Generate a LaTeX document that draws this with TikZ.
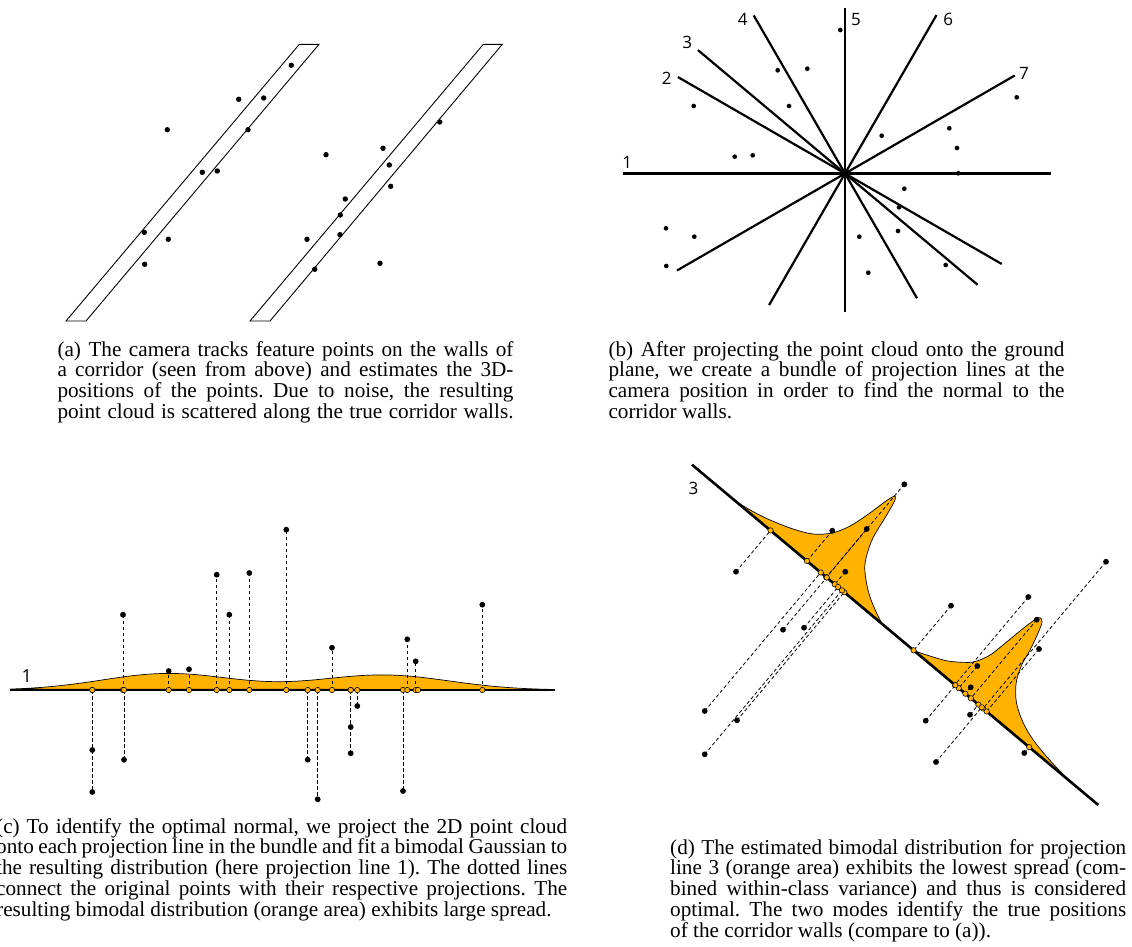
\documentclass[tikz,border=0pt]{standalone}
\usepackage{fontspec}
\setmainfont{Liberation Serif}
\newfontfamily\numfont{Open Sans}
\usetikzlibrary{calc}
\definecolor{gauss}{RGB}{255,179,0}
\frenchspacing
\newcommand{\capfont}{\fontsize{21.2}{20.8}\selectfont\lineskiplimit=-100pt\frenchspacing}
\newcommand{\jln}[2]{\makebox[#1][s]{#2}}
\newcommand{\lastln}[2]{\makebox[#1][l]{#2}}
\begin{document}
\begin{tikzpicture}[x=1pt,y=-1pt,
  wall/.style={line width=0.9pt, line join=miter},
  dotA/.style={circle,fill=black,inner sep=0pt,minimum size=5.4pt},
  dotB/.style={circle,fill=black,inner sep=0pt,minimum size=4.7pt},
  dotC/.style={circle,fill=black,inner sep=0pt,minimum size=5.8pt},
  ray/.style={line width=2.2pt},
  axis/.style={line width=2.6pt},
  proj/.style={circle,fill=gauss,draw=black,line width=0.55pt,inner sep=0pt,minimum size=5.4pt},
  dashes/.style={line width=0.8pt,dash pattern=on 3.5pt off 2.5pt},
  blob/.style={fill=gauss,draw=black,line width=0.7pt},
  numlab/.style={font=\numfont\fontsize{17}{17}\selectfont,inner sep=0pt},
  capnode/.style={anchor=base west,inner sep=0pt}]
\useasboundingbox (0,0) rectangle (1132,946);

% ---------------- (a) corridor ----------------
\draw[wall] (66,321) -- (86,321) -- (319,44.3) -- (299.3,44.3) -- cycle;
\draw[wall] (250,321) -- (270,321) -- (502.3,44.3) -- (483.3,44.3) -- cycle;
\foreach \p [count=\i] in {(291.3,65.3),(238.7,99.3),(263.7,98),(167.3,129.7),(248,129.7),
  (202.3,172.3),(217.3,171),(144.3,232.3),(168.3,239.3),(144.7,264.3),(439.7,122),
  (326,154.7),(383,148.3),(389.3,165),(390.7,186.3),(345.3,199),(340.3,215),
  (307,239.3),(340,234.7),(380,263.3),(314.7,269.3)}
  \node[dotA] (a\i) at \p {};

% ---------------- (b) bundle ----------------
\coordinate (bc) at (845,173.5);
\foreach \n/\aa/\ra/\ab/\rb in {1/180/222/0/206, 2/210/193/30/181, 3/220/192/40/173,
  4/240/182.5/60/144, 5/270/165.5/90/138, 6/300/183/120/152, 7/330/196/150/194} {
  \coordinate (b\n s) at ($(bc)+(\aa:\ra)$);
  \coordinate (b\n e) at ($(bc)+(\ab:\rb)$);
  \draw[ray] (b\n s) -- (b\n e);
}
\node[numlab] (bl1) at (627.3,162.3) {1};
\node[numlab] (bl2) at (666.7,78.3) {2};
\node[numlab] (bl3) at (687.3,42.3) {3};
\node[numlab] (bl4) at (742.7,19.3) {4};
\node[numlab] (bl5) at (856,19.3) {5};
\node[numlab] (bl6) at (948.3,19.3) {6};
\node[numlab] (bl7) at (1024,73.3) {7};
\foreach \p [count=\i] in {(840.3,30),(777.7,70.3),(807.3,68.7),(693.7,106),(789,106),
  (1016.7,97.3),(949.3,128.3),(881.7,135.7),(957,148),(734.7,156.7),(752.7,155.3),
  (958.3,173.3),(904.3,188.7),(899,207.3),(666,228.3),(694.3,236.7),(898,231),
  (859.3,236.7),(666.3,266),(945.7,265),(868.3,272.7)}
  \node[dotB] (b\i) at \p {};

% ---------------- (c) projection on line 1 ----------------
\draw[blob] plot[domain=10:555,samples=220,smooth]
  (\x,{690-16.5*exp(-0.5*((\x-168)/66)^2)-15*exp(-0.5*((\x-383)/66)^2)}) -- cycle;
\foreach \x/\y [count=\i] in {92.3/750,92.3/792,123/614.7,124/759.7,168.7/671,189/669.3,
  216.7/574.7,229.3/614.7,249.3/573,286.3/529.7,307.7/759.7,317.7/799.3,332/647.7,
  350.7/727,350.7/753.3,357.3/706,403/791,407.3/639.3,415.7/661.3,482.3/604.7} {
  \coordinate (cpt\i) at (\x,\y);
  \coordinate (cpr\i) at (\x,690);
  \draw[dashes] (cpr\i) -- (cpt\i);
}
\coordinate (cpr21) at (418,690);
\coordinate (c1w) at (10,690);
\coordinate (c1e) at (555,690);
\draw[axis] (c1w) -- (c1e);
\foreach \i in {1,...,20} {
  \node[dotC] (cd\i) at (cpt\i) {};
  \node[proj] (cq\i) at (cpr\i) {};
}
\node[proj] (cq21) at (cpr21) {};
\node[numlab,font=\numfont\fontsize{18}{18}\selectfont] (cl1) at (26.7,675.7) {1};

% ---------------- (d) projection on line 3 ----------------
\coordinate (L3a) at (692,464.7);
\coordinate (L3b) at (1098.3,805);
\begin{scope}[shift={(698.3,470)},x={(0.766pt,-0.643pt)},y={(0.643pt,0.766pt)}]
\draw[blob] plot[smooth,tension=0.55] coordinates {(47.8,0) (67.5,3.1) (87.1,7.8)
  (110.4,15.7) (129.1,24.8) (142.9,37.7) (152.2,54.6) (159.1,77.5) (163.7,97)
  (167.4,106.6) (170.5,101.3) (173.4,85.5) (178,58.1) (187.5,36) (199.2,23.5)
  (213.2,13.1) (229.5,4.6) (240.7,0)} -- cycle;
\draw[blob] plot[smooth,tension=0.55] coordinates {(280.9,0) (294,5.2) (312.9,13.6)
  (326.6,23.1) (335.1,31.2) (342.4,45.9) (346.8,67.1) (350.6,87.4) (354,102)
  (356.7,106.6) (361,104.6) (365,93.5) (369.8,75.4) (373,58.4) (380.4,41.1)
  (393.5,26.1) (411.9,15) (430,8.6) (451,4.4) (470,2) (488,0)} -- cycle;
\end{scope}
\foreach \x/\y [count=\i] in {904.3/484.3,832.3/530.7,866.7/529,736/571.7,845.3/571.7,
  783/629.7,804/627.7,704.7/711,737/720.3,704.7/754.3,1106/561.7,1028.3/597,951/605.7,
  1036.7/619.7,1039/649,977.3/666,970.7/687.3,925.7/720.7,970/714.7,936/762,1024.3/753} {
  \coordinate (dpt\i) at (\x,\y);
  \coordinate (dpr\i) at ($(L3a)!(dpt\i)!(L3b)$);
  \draw[dashes] (dpt\i) -- (dpr\i);
}
\draw[axis] (L3a) -- (L3b);
\foreach \i in {1,...,21} {
  \node[dotC] (dd\i) at (dpt\i) {};
  \node[proj] (dq\i) at (dpr\i) {};
}
\node[numlab] (dl3) at (693.5,488.5) {3};

% ---------------- captions ----------------
\node[capnode] (capa) at (57.3,356) {\parbox[t]{456pt}{\capfont
  \jln{456pt}{(a) The camera tracks feature points on the walls of}\\
  \jln{456pt}{a corridor (seen from above) and estimates the 3D-}\\
  \jln{456pt}{positions of the points. Due to noise, the resulting}\\
  \jln{456pt}{point cloud is scattered along the true corridor walls.}}};
\node[capnode] (capb) at (608.3,356) {\parbox[t]{456pt}{\capfont
  \jln{456pt}{(b) After projecting the point cloud onto the ground}\\
  \jln{456pt}{plane, we create a bundle of projection lines at the}\\
  \jln{456pt}{camera position in order to find the normal to the}\\
  \lastln{456pt}{corridor walls.}}};
\node[capnode] (capc) at (-4,833) {\parbox[t]{571pt}{\capfont
  \jln{571pt}{(c) To identify the optimal normal, we project the 2D point cloud}\\
  \jln{571pt}{onto each projection line in the bundle and fit a bimodal Gaussian to}\\
  \jln{571pt}{the resulting distribution (here projection line 1). The dotted lines}\\
  \jln{571pt}{connect the original points with their respective projections. The}\\
  \lastln{571pt}{resulting bimodal distribution (orange area) exhibits large spread.}}};
\node[capnode] (capd) at (670,854) {\parbox[t]{456pt}{\capfont
  \jln{456pt}{(d) The estimated bimodal distribution for projection}\\
  \jln{456pt}{line 3 (orange area) exhibits the lowest spread (com-}\\
  \jln{456pt}{bined within-class variance) and thus is considered}\\
  \jln{456pt}{optimal. The two modes identify the true positions}\\
  \lastln{456pt}{of the corridor walls (compare to (a)).}}};
\end{tikzpicture}
\end{document}
